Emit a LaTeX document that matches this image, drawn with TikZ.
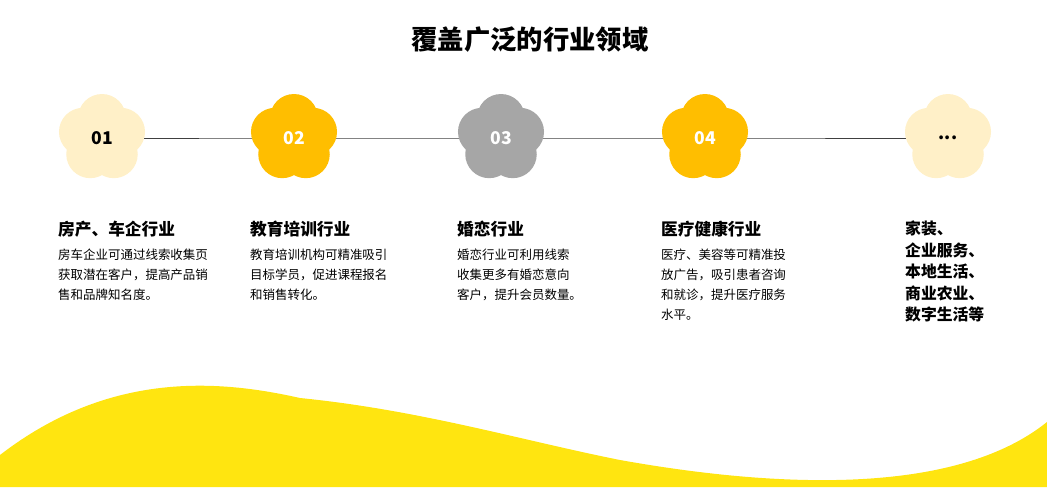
\documentclass[tikz,border=0pt]{standalone}
\usepackage{fontspec}
\setmainfont{Noto Sans CJK SC}
\setsansfont{Noto Sans CJK SC}
\usepackage{tikz}
\definecolor{cream}{HTML}{FFF0C8}
\definecolor{amber}{HTML}{FFBE00}
\definecolor{stone}{HTML}{A6A6A6}
\definecolor{wave}{HTML}{FFE510}
\tikzset{
  num/.style={font=\fontsize{10}{12}\selectfont\bfseries},
  head/.style={anchor=north west, font=\fontsize{9.5}{11}\selectfont\bfseries},
  body/.style={anchor=north west, align=left, font=\fontsize{7.1}{11.3}\selectfont},
}
\newcommand{\flower}[2]{%
  \foreach \a in {270,342,54,126,198}
    \fill[#2] (#1) ++(\a:20) circle (24);
  \fill[#2] (#1) circle (22);
}
\begin{document}
\begin{tikzpicture}[x=0.02cm,y=-0.02cm]
\useasboundingbox (0,0) rectangle (1047,487);

% bottom wave
\fill[wave] (0,455) .. controls (110,370) and (220,380) .. (300,398)
  .. controls (420,410) and (520,440) .. (620,460)
  .. controls (760,485) and (950,500) .. (1047,422) -- (1047,487) -- (0,487) -- cycle;

\node[font=\fontsize{15}{16}\selectfont\bfseries] (title) at (530,40) {覆盖广泛的行业领域};

% centres
\coordinate (c1) at (102,138);
\coordinate (c2) at (294,138);
\coordinate (c3) at (501,138);
\coordinate (c4) at (705,138);
\coordinate (c5) at (948,138);

\draw[black!75, line width=0.5pt] (c1) -- (c2) -- (c3) -- (c4) -- (c5);

\flower{c1}{cream}
\flower{c2}{amber}
\flower{c3}{stone}
\flower{c4}{amber}
\flower{c5}{cream}

\node[num] (n1) at (c1) {01};
\node[num, white] (n2) at (c2) {02};
\node[num, white] (n3) at (c3) {03};
\node[num, white] (n4) at (c4) {04};
\node[num] (n5) at (c5) {...};

\node[head] (h1) at (52,215) {房产、车企行业};
\node[head] (h2) at (244,215) {教育培训行业};
\node[head] (h3) at (451,215) {婚恋行业};
\node[head] (h4) at (655,215) {医疗健康行业};

\node[body] (b1) at (52,243) {房车企业可通过线索收集页\\获取潜在客户，提高产品销\\售和品牌知名度。};
\node[body] (b2) at (244,243) {教育培训机构可精准吸引\\目标学员，促进课程报名\\和销售转化。};
\node[body] (b3) at (451,243) {婚恋行业可利用线索\\收集更多有婚恋意向\\客户，提升会员数量。};
\node[body] (b4) at (655,243) {医疗、美容等可精准投\\放广告，吸引患者咨询\\和就诊，提升医疗服务\\水平。};

\node[anchor=north west, align=left, font=\fontsize{9}{12.2}\selectfont\bfseries] (b5) at (899,215)
  {家装、\\企业服务、\\本地生活、\\商业农业、\\数字生活等};
\end{tikzpicture}
\end{document}
